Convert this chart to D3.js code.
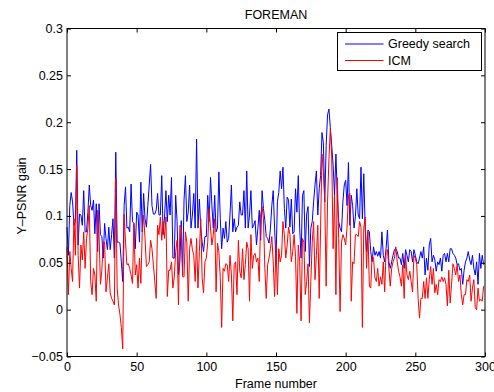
<!DOCTYPE html>
<html>
<head>
<meta charset="utf-8">
<script src="https://cdn.jsdelivr.net/npm/d3@7"></script>
<style>
  body { margin: 0; background: #fff; }
  svg text { font-family: "Liberation Sans", Arial, Helvetica, sans-serif; fill: #000; }
</style>
</head>
<body>
<div id="chart"></div>
<script>
// Y-PSNR gain per frame, FOREMAN sequence (frames 0..299)
const greedy = [
  .088,.058,.111,.125,.115,.090,.094,.170,.069,.102,.101,.090,.127,.083,.083,.104,.133,.111,.106,.117,
  .081,.113,.062,.113,.080,.078,.055,.092,.076,.064,.088,.064,.080,.097,.055,.168,.072,.072,.071,.051,
  .030,.111,.131,.087,.088,.083,.134,.094,.092,.065,.104,.101,.072,.136,.083,.124,.097,.088,.111,.133,
  .155,.111,.102,.102,.106,.124,.101,.101,.143,.080,.099,.127,.094,.122,.101,.141,.055,.055,.122,.094,
  .037,.051,.095,.037,.117,.143,.094,.104,.133,.087,.101,.124,.087,.182,.087,.118,.087,.072,.062,.078,
  .078,.122,.094,.141,.111,.087,.122,.083,.087,.147,.097,.065,.087,.076,.094,.072,.076,.102,.133,.083,
  .097,.083,.088,.090,.115,.101,.101,.127,.087,.148,.087,.101,.127,.087,.090,.095,.069,.087,.106,.074,
  .127,.108,.095,.078,.076,.071,.087,.111,.127,.087,.051,.115,.125,.148,.129,.152,.108,.087,.120,.117,
  .088,.118,.081,.083,.129,.104,.143,.087,.055,.122,.127,.062,.102,.110,.046,.087,.094,.115,.133,.148,
  .101,.129,.143,.189,.178,.115,.175,.208,.214,.194,.175,.154,.122,.166,.122,.094,.087,.083,.115,.133,
  .138,.111,.157,.090,.122,.111,.087,.099,.129,.101,.097,.152,.097,.145,.087,.062,.085,.083,.062,.051,
  .067,.058,.062,.057,.062,.055,.083,.058,.051,.065,.085,.051,.044,.051,.058,.064,.065,.062,.055,.055,
  .048,.060,.044,.064,.058,.051,.064,.062,.051,.064,.058,.051,.049,.055,.062,.055,.067,.037,.055,.042,
  .069,.076,.051,.058,.053,.041,.051,.048,.055,.041,.058,.060,.051,.060,.051,.065,.065,.060,.058,.055,
  .048,.049,.042,.044,.027,.042,.051,.055,.062,.053,.048,.058,.044,.037,.051,.027,.060,.044,.058,.048
];

const icm = [
  .067,.016,.062,.044,.030,.097,.058,.154,.058,.023,.069,.053,.083,.044,.076,.087,.111,.030,.016,.044,
  .037,.009,.106,.080,.027,.042,.072,.072,.019,.034,.049,.018,.012,.009,.005,.140,.023,.005,-.005,-.019,
  -.042,.102,.072,.048,.049,.044,.037,.028,.092,.037,.048,.023,.055,.028,.083,.101,.076,.046,.048,.051,
  .074,.065,.048,.030,.012,.090,.080,.099,.074,.094,.076,.099,.014,.042,.042,.051,.023,.035,.062,.074,
  .005,.090,.088,.035,.035,.083,.072,.009,.065,.076,.064,.058,.030,.076,.023,.062,.097,.034,.018,.051,
  .055,.072,.108,.087,.069,.080,.097,.019,.071,.062,.034,-.019,.044,.041,.049,.048,.030,.058,.037,-.012,
  .048,.051,.016,.074,.041,.034,.065,.032,.048,.072,.065,.009,.080,.044,.058,.060,.051,.055,.030,.101,
  .110,.097,.044,.012,.048,.055,.065,.078,.051,.014,.069,.016,.065,.051,.058,.094,.080,.055,.069,.088,
  .080,.051,.062,.080,.057,-.004,.069,.051,-.012,.076,.072,.016,.030,.049,-.014,.030,.072,.094,.032,.058,
  .090,.012,.087,.166,.147,.115,.025,.115,.161,.193,.164,.065,.122,.016,.141,.076,-.002,.072,.080,.076,
  .069,.088,.122,.124,.009,.051,.049,.080,.080,.078,.094,.088,-.019,.087,.099,.044,.083,.025,.023,.058,
  .055,.034,.030,.044,.025,.035,.027,.051,.019,.062,.064,.044,.025,.044,.051,.055,.067,.051,.041,.035,
  .025,.048,.012,.058,.037,.032,.041,.030,.019,.058,.055,.048,.012,-.009,.012,.012,.030,.012,.034,.012,
  .032,.046,.027,.044,.018,.027,.016,.032,.030,.035,.030,.034,.027,.004,.042,.007,.027,.049,.044,.037,
  .048,.030,.037,.016,.005,.016,.016,.032,.030,.037,.009,.023,.032,.002,.000,.023,.009,.011,.009,.025
];

const xTicks = [0, 50, 100, 150, 200, 250, 300];
const yTicks = [-0.05, 0, 0.05, 0.1, 0.15, 0.2, 0.25, 0.3];
const seriesNames = ["Greedy search", "ICM"];
const seriesColors = ["#0000ff", "#ff0000"];

const width = 494;
const height = 392;
const margin = {top: 28.5, left: 67, right: 9, bottom: 35.5};

const svg = d3.select("#chart")
    .append("svg")
    .attr("width", width)
    .attr("height", height);

svg.append("rect")
    .attr("width", width)
    .attr("height", height)
    .attr("fill", "#fff");

const xScale = d3.scaleLinear()
    .domain([0, 300])
    .range([margin.left, width - margin.right]);

const yScale = d3.scaleLinear()
    .domain([-0.05, 0.3])
    .range([height - margin.bottom, margin.top]);

// lines
const line = d3.line()
    .x(function(d, i) { return xScale(i); })
    .y(function(d) { return yScale(d); });

[greedy, icm].forEach(function(series, k) {
    svg.append("path")
        .datum(series)
        .attr("d", line)
        .attr("fill", "none")
        .attr("stroke", seriesColors[k])
        .attr("stroke-width", 1);
});

// axes, MATLAB style: ticks point inward on all four sides
const fmt = function(d) { return d < 0 ? "\u2212" + Math.abs(d) : String(d); };

const xAxis = svg.append("g")
    .attr("transform", `translate(0,${height - margin.bottom})`)
    .call(d3.axisBottom(xScale).tickValues(xTicks).tickSizeInner(-4).tickSizeOuter(0).tickPadding(5.5));

svg.append("g")
    .attr("transform", `translate(0,${margin.top})`)
    .call(d3.axisTop(xScale).tickValues(xTicks).tickSizeInner(-4).tickSizeOuter(0).tickFormat(""));

const yAxis = svg.append("g")
    .attr("transform", `translate(${margin.left},0)`)
    .call(d3.axisLeft(yScale).tickValues(yTicks).tickSizeInner(-4).tickSizeOuter(0).tickPadding(4).tickFormat(fmt));

svg.append("g")
    .attr("transform", `translate(${width - margin.right},0)`)
    .call(d3.axisRight(yScale).tickValues(yTicks).tickSizeInner(-4).tickSizeOuter(0).tickFormat(""));

svg.selectAll(".domain").remove();
svg.selectAll(".tick line").attr("stroke", "#000");
svg.selectAll(".tick text").attr("font-size", 12.5);

// box
svg.append("rect")
    .attr("x", margin.left)
    .attr("y", margin.top)
    .attr("width", width - margin.left - margin.right)
    .attr("height", height - margin.top - margin.bottom)
    .attr("fill", "none")
    .attr("stroke", "#000")
    .attr("stroke-width", 1);

// title and axis labels
svg.append("text")
    .attr("x", (margin.left + width - margin.right) / 2)
    .attr("y", 18.5)
    .attr("text-anchor", "middle")
    .attr("font-size", 12.5)
    .text("FOREMAN");

svg.append("text")
    .attr("x", (margin.left + width - margin.right) / 2)
    .attr("y", 388)
    .attr("text-anchor", "middle")
    .attr("font-size", 12.5)
    .text("Frame number");

svg.append("text")
    .attr("transform", "rotate(-90)")
    .attr("x", -196)
    .attr("y", 26)
    .attr("text-anchor", "middle")
    .attr("font-size", 12.5)
    .text("Y\u2013PSNR gain");

// legend
const legend = svg.append("g");
legend.append("rect")
    .attr("x", 337.5)
    .attr("y", 32.5)
    .attr("width", 144)
    .attr("height", 38)
    .attr("fill", "#fff")
    .attr("stroke", "#000");

seriesNames.forEach(function(name, k) {
    const y = 44 + k * 16.5;
    legend.append("line")
        .attr("x1", 345).attr("x2", 383.5)
        .attr("y1", y).attr("y2", y)
        .attr("stroke", seriesColors[k]);
    legend.append("text")
        .attr("x", 388)
        .attr("y", y + 4)
        .attr("font-size", 12.5)
        .text(name);
});
</script>
</body>
</html>
